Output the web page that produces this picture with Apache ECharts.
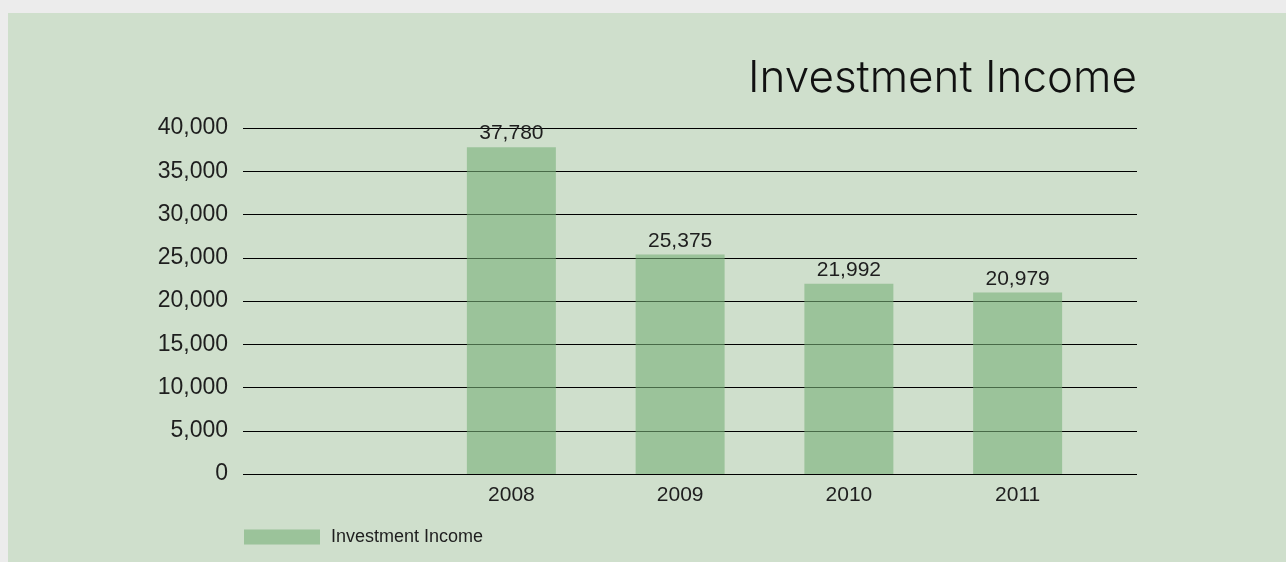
<!DOCTYPE html>
<html>
<head>
<meta charset="utf-8">
<script src="https://cdn.jsdelivr.net/npm/echarts@6/dist/echarts.min.js"></script>
<style>
  html, body { margin: 0; padding: 0; background: #ececec; }
  #chart { width: 1286px; height: 562px; }
</style>
</head>
<body>
<div id="chart"></div>
<script>
// Annual investment income
const years = ['2008', '2009', '2010', '2011'];
const incomeValues = [37780, 25375, 21992, 20979];
const seriesName = 'Investment Income';
const yMin = 0, yMax = 40000, yStep = 5000;

const FONT = '"Liberation Sans", Arial, sans-serif';
const TITLE_FONT = 'Inter, "Liberation Sans", sans-serif';
const textColor = '#1e1e1e';

const chart = echarts.init(document.getElementById('chart'), null, { renderer: 'canvas' });

const option = {
  backgroundColor: 'transparent',
  animation: false,
  textStyle: { fontFamily: FONT },
  graphic: [{
    type: 'rect',
    z: -10,
    silent: true,
    shape: { x: 8, y: 13, width: 1286, height: 562 },
    style: { fill: '#cfdfcc' }
  }],
  title: {
    text: 'Investment Income',
    right: 144,
    top: 52,
    textStyle: { fontFamily: TITLE_FONT, fontSize: 44, fontWeight: 300, color: '#111' }
  },
  legend: {
    left: 239,
    top: 523,
    itemWidth: 76,
    itemHeight: 15,
    itemGap: 10,
    icon: 'rect',
    textStyle: { fontFamily: FONT, fontSize: 18, color: textColor, padding: [0, 0, 0, 6] },
    data: [seriesName]
  },
  grid: [
    // grid with the value axis and horizontal rules
    { left: 243, right: 149, top: 128, bottom: 88 },
    // grid holding the year bars
    { left: 427, right: 184, top: 128, bottom: 88 }
  ],
  xAxis: [
    { gridIndex: 0, type: 'category', data: [''], show: false },
    {
      gridIndex: 1,
      type: 'category',
      data: years,
      axisLine: { show: false },
      axisTick: { show: false },
      axisLabel: { margin: 11, fontFamily: FONT, fontSize: 21, color: textColor }
    }
  ],
  yAxis: [
    {
      gridIndex: 0,
      type: 'value',
      min: yMin,
      max: yMax,
      interval: yStep,
      axisLine: { show: false },
      axisTick: { show: false },
      splitLine: { lineStyle: { color: '#000', width: 1 } },
      axisLabel: {
        margin: 15,
        fontFamily: FONT,
        fontSize: 23,
        color: textColor,
        formatter: v => v.toLocaleString('en-US')
      }
    },
    {
      gridIndex: 1,
      type: 'value',
      min: yMin,
      max: yMax,
      interval: yStep,
      show: false,
      splitLine: { show: false }
    }
  ],
  series: [{
    name: seriesName,
    type: 'bar',
    xAxisIndex: 1,
    yAxisIndex: 1,
    data: incomeValues,
    barWidth: 89,
    itemStyle: { color: 'rgba(120,176,120,0.6)' },
    label: {
      show: true,
      position: 'top',
      distance: 3,
      fontFamily: FONT,
      fontSize: 21,
      color: textColor,
      formatter: p => p.value.toLocaleString('en-US')
    }
  }]
};

chart.setOption(option);
</script>
</body>
</html>
